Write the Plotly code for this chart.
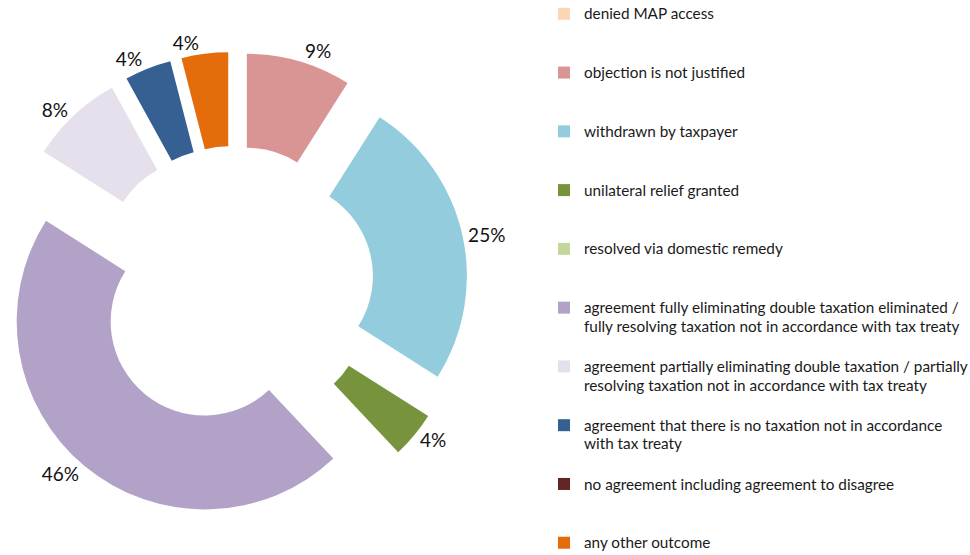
import plotly.graph_objects as go

# ---- data ----
labels = [
    "denied MAP access",
    "objection is not justified",
    "withdrawn by taxpayer",
    "unilateral relief granted",
    "resolved via domestic remedy",
    "agreement fully eliminating double taxation eliminated /<br>fully resolving taxation not in accordance with tax treaty",
    "agreement partially eliminating double taxation / partially<br>resolving taxation not in accordance with tax treaty",
    "agreement that there is no taxation not in accordance<br>with tax treaty",
    "no agreement including agreement to disagree",
    "any other outcome",
]
values = [0, 9, 25, 4, 0, 46, 8, 4, 0, 4]
colors = [
    "#FCD5B5", "#D99594", "#93CDDD", "#77933C", "#C3D69B",
    "#B3A2C7", "#E6E0EC", "#376092", "#632523", "#E46C0A",
]

total = sum(values)
pct_texts = [f"{round(v / total * 100)}%" if v > 0 else "" for v in values]

# percentage labels are split over two identical pies (alternating non-zero slices)
# so that Plotly does not stack neighbouring outside labels with leader lines
nonzero_rank = {}
for i, v in enumerate(values):
    if v > 0:
        nonzero_rank[i] = len(nonzero_rank)
texts_a = [t if i in nonzero_rank and nonzero_rank[i] % 2 == 0 else "" for i, t in enumerate(pct_texts)]
texts_b = [t if i in nonzero_rank and nonzero_rank[i] % 2 == 1 else "" for i, t in enumerate(pct_texts)]

# pad every legend entry to the same number of lines so entries are evenly spaced
LINES_PER_ENTRY = 3
legend_labels = []
for lab in labels:
    lines = lab.split("<br>")
    body = "<br>".join(f'<span style="font-size:15.3px">{ln}</span>' for ln in lines)
    legend_labels.append(body + "<br> " * (LINES_PER_ENTRY - len(lines)))

W, H = 970, 555
cx, cy = 234, 286
half = 240
domain = dict(x=[0, 2 * cx / W], y=[1 - (cy + half) / H, 1 - (cy - half) / H])
label_font = dict(family="Lato", size=19, color="#111111")

common = dict(
    labels=legend_labels,
    values=values,
    hole=0.5,
    pull=0.245,
    sort=False,
    direction="clockwise",
    rotation=0,
    textinfo="text",
    textposition="outside",
    outsidetextfont=label_font,
    domain=domain,
    automargin=False,
)

fig = go.Figure()
fig.add_trace(
    go.Pie(
        **common,
        marker=dict(colors=colors, line=dict(width=0)),
        text=texts_a,
        hoverinfo="label+percent",
        showlegend=True,
    )
)
fig.add_trace(
    go.Pie(
        **common,
        marker=dict(colors=["rgba(0,0,0,0)"] * len(values), line=dict(width=0)),
        text=texts_b,
        hoverinfo="skip",
        showlegend=False,
    )
)

fig.update_layout(
    width=W,
    height=H,
    margin=dict(l=0, r=0, t=0, b=0, autoexpand=False),
    paper_bgcolor="white",
    plot_bgcolor="white",
    font=dict(family="Lato", color="#1a1a1a"),
    showlegend=True,
    legend=dict(
        x=544 / W,
        y=1 + 2 / H,
        xanchor="left",
        yanchor="top",
        valign="top",
        traceorder="normal",
        font=dict(family="Lato", size=14.3, color="#1a1a1a"),
        bgcolor="rgba(0,0,0,0)",
    ),
)
try:
    fig.update_layout(legend_maxheight=700)
except Exception:
    pass

fig.write_html("out.html")
